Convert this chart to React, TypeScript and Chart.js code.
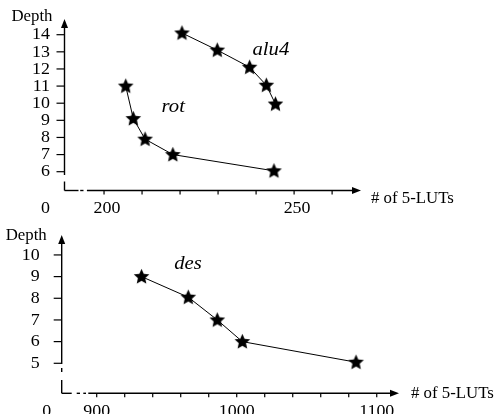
import React, { useEffect, useRef } from "react";
import { Chart, registerables } from "chart.js";

Chart.register(...registerables);

// ---- Data ----
const alu4X = [220.5, 229.8, 238.3, 242.7, 245.1];
const alu4Y = [14.1, 13.1, 12.1, 11.05, 9.95];
const rotX = [205.7, 207.7, 210.8, 218.1, 244.7];
const rotY = [11.0, 9.1, 7.9, 7.0, 6.05];
const desX = [932, 965.4, 986.1, 1004, 1085.2];
const desY = [9.0, 8.05, 7.0, 6.0, 5.05];

const topXTicks = [200, 210, 220, 230, 240, 250, 260];
const topXLabeled = [200, 250];
const topYTicks = [6, 7, 8, 9, 10, 11, 12, 13, 14];
const botXTicks = [900, 920, 940, 960, 980, 1000, 1020, 1040, 1060, 1080, 1100];
const botXLabeled = [900, 1000, 1100];
const botYTicks = [5, 6, 7, 8, 9, 10];

const seriesLabelsTop = [
  { text: "alu4", x: 243.9, y: 13.1 },
  { text: "rot", x: 218.2, y: 9.78 },
];
const seriesLabelsBot = [{ text: "des", x: 965.2, y: 9.58 }];

const SERIF = '"Liberation Serif", "Times New Roman", serif';

function makeStar(): HTMLCanvasElement {
  const c = document.createElement("canvas");
  c.width = 19;
  c.height = 19;
  const g = c.getContext("2d")!;
  const cx = 9.5, cy = 9.9, R = 8.2, r = 3.8;
  g.beginPath();
  for (let i = 0; i < 10; i++) {
    const rad = i % 2 === 0 ? R : r;
    const a = -Math.PI / 2 + (i * Math.PI) / 5;
    const px = cx + rad * Math.cos(a);
    const py = cy + rad * Math.sin(a);
    if (i === 0) g.moveTo(px, py);
    else g.lineTo(px, py);
  }
  g.closePath();
  g.fillStyle = "#000";
  g.fill();
  return c;
}

type AxisCfg = {
  xTicks: number[];
  xLabeled: number[];
  yTicks: number[];
  ySegs: [number, number][];
  xSegs: [number, number][];
  yLabelGap: number;
  xLabelDx: number;
  zeroDx: number;
  depthGap: number;
  depthDy: number;
  xTitleDx: number;
  xTitleDy: number;
  labels: { text: string; x: number; y: number }[];
};

function textScaled(ctx: CanvasRenderingContext2D, text: string, x: number, y: number, sx: number) {
  ctx.save();
  ctx.translate(x, y);
  ctx.scale(sx, 1);
  ctx.fillText(text, 0, 0);
  ctx.restore();
}

function axesPlugin(cfg: AxisCfg) {
  return {
    id: "brokenAxes",
    afterDraw(chart: any) {
      const { ctx, chartArea, scales } = chart;
      const { left, right, top, bottom } = chartArea;
      const xs = scales.x;
      const ys = scales.y;
      ctx.save();
      ctx.strokeStyle = "#000";
      ctx.fillStyle = "#000";
      ctx.lineWidth = 1.4;
      const arrowL = 9;
      cfg.ySegs.forEach(([a, b]) => {
        const y0 = bottom - a;
        const y1 = Math.max(bottom - b, top + arrowL - 1);
        ctx.beginPath();
        ctx.moveTo(left, y0);
        ctx.lineTo(left, y1);
        ctx.stroke();
      });
      cfg.xSegs.forEach(([a, b]) => {
        const x0 = left + a;
        const x1 = Math.min(left + b, right - arrowL + 1);
        ctx.beginPath();
        ctx.moveTo(x0, bottom);
        ctx.lineTo(x1, bottom);
        ctx.stroke();
      });
      ctx.beginPath();
      ctx.moveTo(left, top);
      ctx.lineTo(left - 3.5, top + arrowL);
      ctx.lineTo(left + 3.5, top + arrowL);
      ctx.closePath();
      ctx.fill();
      ctx.beginPath();
      ctx.moveTo(right, bottom);
      ctx.lineTo(right - arrowL, bottom - 3.5);
      ctx.lineTo(right - arrowL, bottom + 3.5);
      ctx.closePath();
      ctx.fill();
      ctx.lineWidth = 1.2;
      cfg.yTicks.forEach((v) => {
        const py = ys.getPixelForValue(v);
        ctx.beginPath();
        ctx.moveTo(left - 8, py);
        ctx.lineTo(left, py);
        ctx.stroke();
      });
      cfg.xTicks.forEach((v) => {
        const px = xs.getPixelForValue(v);
        ctx.beginPath();
        ctx.moveTo(px, bottom);
        ctx.lineTo(px, bottom + 4);
        ctx.stroke();
      });
      ctx.font = `16px ${SERIF}`;
      ctx.textAlign = "right";
      ctx.textBaseline = "middle";
      cfg.yTicks.forEach((v) => {
        textScaled(ctx, String(v), left - cfg.yLabelGap, ys.getPixelForValue(v) + 0.5, 1.12);
      });
      ctx.textAlign = "center";
      cfg.xLabeled.forEach((v) => {
        textScaled(ctx, String(v), xs.getPixelForValue(v) + cfg.xLabelDx, bottom + 18, 1.12);
      });
      textScaled(ctx, "0", left - cfg.zeroDx, bottom + 18, 1.12);
      ctx.font = `16px ${SERIF}`;
      ctx.textAlign = "right";
      textScaled(ctx, "Depth", left - cfg.depthGap, top + cfg.depthDy, 1.05);
      ctx.textAlign = "left";
      textScaled(ctx, "# of 5-LUTs", right + cfg.xTitleDx, bottom + cfg.xTitleDy, 1.05);
      ctx.font = `italic 18px ${SERIF}`;
      ctx.textAlign = "center";
      cfg.labels.forEach((l) => {
        textScaled(ctx, l.text, xs.getPixelForValue(l.x), ys.getPixelForValue(l.y), 1.15);
      });
      ctx.restore();
    },
  };
}

function makeDataset(xs: number[], ys: number[], star: HTMLCanvasElement) {
  return {
    data: xs.map((x, i) => ({ x, y: ys[i] })),
    showLine: true,
    borderColor: "#000",
    borderWidth: 1,
    pointStyle: star,
    pointRadius: 8,
    backgroundColor: "#000",
  };
}

function baseOptions(
  padding: { left: number; right: number; top: number; bottom: number },
  xmin: number,
  xmax: number,
  ymin: number,
  ymax: number
) {
  return {
    responsive: false,
    animation: false as const,
    layout: { padding },
    plugins: { legend: { display: false }, tooltip: { enabled: false } },
    scales: {
      x: { type: "linear" as const, display: false, min: xmin, max: xmax },
      y: { type: "linear" as const, display: false, min: ymin, max: ymax },
    },
  };
}

export default function App() {
  const topRef = useRef<HTMLCanvasElement>(null);
  const botRef = useRef<HTMLCanvasElement>(null);

  useEffect(() => {
    const star = makeStar();
    const topChart = new Chart(topRef.current!, {
      type: "scatter",
      data: {
        datasets: [makeDataset(alu4X, alu4Y, star), makeDataset(rotX, rotY, star)],
      },
      options: baseOptions({ left: 64.5, right: 134, top: 19, bottom: 29.5 }, 189.6, 267.6, 4.902, 14.917) as any,
      plugins: [
        axesPlugin({
          xTicks: topXTicks,
          xLabeled: topXLabeled,
          yTicks: topYTicks,
          ySegs: [
            [0, 9],
            [15.5, 1000],
          ],
          xSegs: [
            [0, 14],
            [15.7, 19],
            [22.4, 1000],
          ],
          yLabelGap: 14.5,
          xLabelDx: 3,
          zeroDx: 19,
          depthGap: 12,
          depthDy: -2,
          xTitleDx: 10,
          xTitleDy: 8,
          labels: seriesLabelsTop,
        }),
      ],
    });
    const botChart = new Chart(botRef.current!, {
      type: "scatter",
      data: { datasets: [makeDataset(desX, desY, star)] },
      options: baseOptions({ left: 61.7, right: 96, top: 15, bottom: 20.7 }, 875, 1115.9, 3.615, 10.92) as any,
      plugins: [
        axesPlugin({
          xTicks: botXTicks,
          xLabeled: botXLabeled,
          yTicks: botYTicks,
          ySegs: [
            [0, 13.3],
            [21.3, 25.3],
            [29.3, 1000],
          ],
          xSegs: [
            [0, 10],
            [15, 18.3],
            [21.6, 24.3],
            [26.6, 1000],
          ],
          yLabelGap: 22,
          xLabelDx: 0,
          zeroDx: 15,
          depthGap: 15,
          depthDy: 1,
          xTitleDx: 12,
          xTitleDy: 0,
          labels: seriesLabelsBot,
        }),
      ],
    });
    return () => {
      topChart.destroy();
      botChart.destroy();
    };
  }, []);

  return (
    <div style={{ position: "absolute", left: 0, top: 0, width: 495, height: 414, background: "#fff" }}>
      <canvas ref={topRef} width={495} height={220} style={{ position: "absolute", left: 0, top: 0 }} />
      <canvas ref={botRef} width={495} height={194} style={{ position: "absolute", left: 0, top: 220 }} />
    </div>
  );
}
